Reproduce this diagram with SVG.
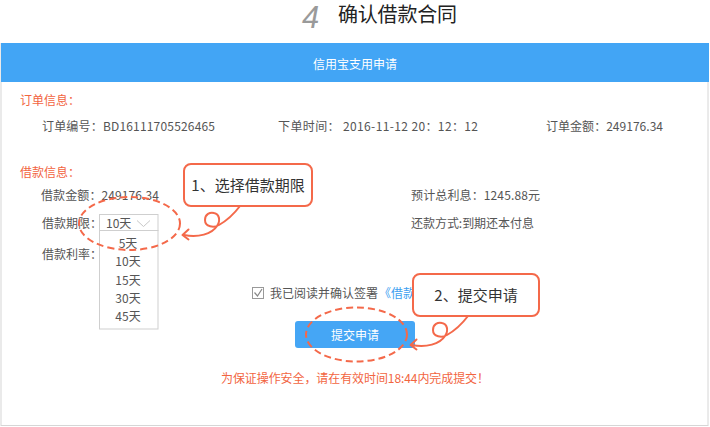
<svg xmlns="http://www.w3.org/2000/svg" width="710" height="427" viewBox="0 0 710 427">
<defs>
<style>
text{font-family:"Noto Sans CJK SC","Noto Sans",sans-serif;font-size:12px;fill:#555;}
.red{fill:#f2653f;}
.wh{fill:#ffffff;}
.note{font-size:15px;fill:#333;}
.callout{fill:#ffffff;stroke:#f4694a;stroke-width:2;}
.tail{fill:none;stroke:#f4694a;stroke-width:2;stroke-linecap:round;stroke-linejoin:round;}
.oval{fill:none;stroke:#f4694a;stroke-width:2;stroke-dasharray:7 4;}
.opt{text-anchor:middle;}
</style>
</defs>
<rect width="710" height="427" fill="#ffffff"/>

<g id="title">
<text x="302" y="28" style="font-family:'Liberation Sans',sans-serif;font-style:italic;font-size:31px;fill:#9a9a9a;">4</text>
<text x="338" y="22" style="font-size:20px;fill:#222;" textLength="119">确认借款合同</text>
</g>

<g id="panel">
<rect x="1" y="43.5" width="707" height="382" fill="#ffffff" stroke="#d6d6d6" stroke-width="1"/>
<rect x="1" y="43" width="708" height="39" fill="#42a5f5"/>
<text class="wh" x="355" y="68.5" text-anchor="middle">信用宝支用申请</text>
</g>

<g id="order-info">
<text class="red" x="20" y="104.5">订单信息：</text>
<text x="42" y="130.5" textLength="173">订单编号：BD16111705526465</text>
<text x="278" y="130.5" textLength="200">下单时间： 2016-11-12 20：12：12</text>
<text x="546" y="130.5" textLength="117">订单金额：249176.34</text>
</g>

<g id="loan-info">
<text class="red" x="20" y="176.5">借款信息：</text>
<text x="41" y="199.5" textLength="118">借款金额：249176.34</text>
<text x="411" y="199.5" textLength="129">预计总利息：1245.88元</text>
<text x="42" y="227.5">借款期限：</text>
<text x="411" y="227.5" textLength="123">还款方式:到期还本付息</text>
<text x="42" y="258.5">借款利率：</text>
</g>

<g id="term-select">
<rect x="99.5" y="214.5" width="58.5" height="16" fill="#ffffff" stroke="#cfcfcf"/>
<text x="106" y="227.5">10天</text>
<polyline points="137,220.5 143.5,226.5 150,220.5" fill="none" stroke="#c8c8c8" stroke-width="1"/>
<rect x="99.5" y="230.5" width="58.5" height="98.5" fill="#ffffff" stroke="#cfcfcf"/>
<text class="opt" x="128" y="247.5">5天</text>
<text class="opt" x="128" y="266">10天</text>
<text class="opt" x="128" y="284.5">15天</text>
<text class="opt" x="128" y="302.5">30天</text>
<text class="opt" x="128" y="320.5">45天</text>
</g>

<g id="agree">
<rect x="252.5" y="287.5" width="11" height="11" fill="#ffffff" stroke="#999" stroke-width="1"/>
<polyline points="254.5,292.5 257.5,296 262,289" fill="none" stroke="#888" stroke-width="1.2"/>
<text x="270" y="297.5">我已阅读并确认签署</text>
<text x="379" y="297.5" style="fill:#3d9ff0;">《借款</text>
</g>

<g id="submit">
<rect x="295" y="321" width="120" height="27" rx="3" fill="#45a6f5"/>
<text class="wh" x="355" y="339.5" text-anchor="middle">提交申请</text>
</g>

<g id="warning">
<text class="red" x="355" y="382.5" text-anchor="middle" textLength="268">为保证操作安全，请在有效时间18:44内完成提交！</text>
</g>

<g id="highlight-1">
<ellipse class="oval" cx="129.5" cy="223.5" rx="50.5" ry="26.5"/>
</g>
<g id="highlight-2">
<ellipse class="oval" cx="356.5" cy="334.5" rx="50.5" ry="27"/>
</g>

<g id="connectors">
<g id="tail-1">
<path class="tail" d="M240,206 C234,214 226,221 219,225 C214,228 205,227 205,220 C205,214 210,212 214,213 C219,214 221,220 217,226 C212,234 198,238 184,235"/>
<polyline class="tail" points="188.5,229.5 182.5,235 188.5,239.5"/>
</g>
<g id="tail-2" transform="translate(228,110)">
<path class="tail" d="M240,206 C234,214 226,221 219,225 C214,228 205,227 205,220 C205,214 210,212 214,213 C219,214 221,220 217,226 C212,234 198,238 184,235"/>
<polyline class="tail" points="188.5,229.5 182.5,235 188.5,239.5"/>
</g>
</g>

<g id="callout-1">
<rect class="callout" x="184" y="164" width="128" height="42" rx="7"/>
<text class="note" x="248" y="190.5" text-anchor="middle">1、选择借款期限</text>
</g>
<g id="callout-2">
<rect class="callout" x="413" y="274" width="126" height="42" rx="7"/>
<text class="note" x="476" y="300.5" text-anchor="middle">2、提交申请</text>
</g>
</svg>
